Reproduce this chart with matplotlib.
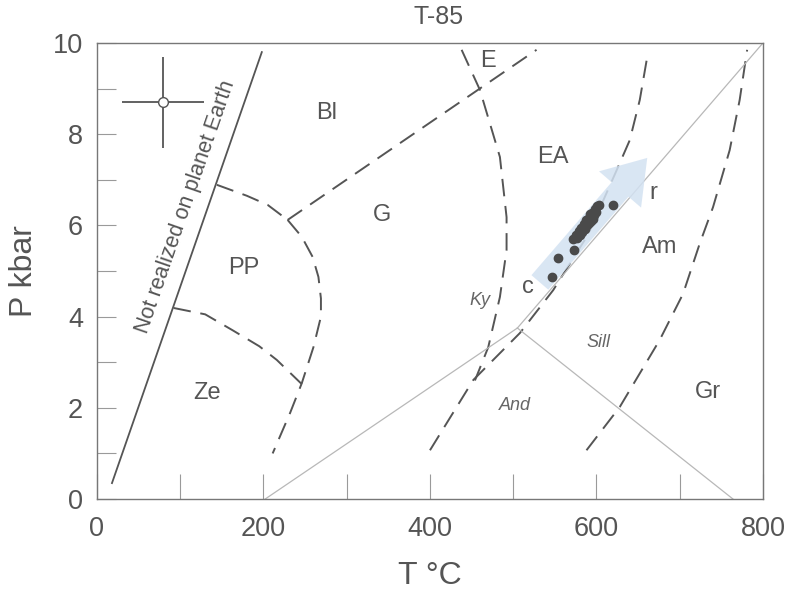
import matplotlib
matplotlib.use('Agg')
import matplotlib.pyplot as plt
from matplotlib.patches import FancyArrowPatch

plt.rcParams['font.family'] = ['Liberation Sans', 'DejaVu Sans']

INK = '#555555'
LIGHT = '#9a9a9a'

# metamorphic facies boundaries (T in °C, P in kbar)
earth_T = [18, 198]
earth_P = [0.35, 9.8]

pp_g_T = [229, 246, 259, 266, 269, 269, 260, 246, 232, 211]
pp_g_P = [6.12, 5.75, 5.31, 4.87, 4.4, 4.0, 3.33, 2.54, 1.89, 1.0]

pp_top_T = [144, 180, 205, 229]
pp_top_P = [6.89, 6.65, 6.45, 6.12]

pp_ze_T = [92, 130, 163, 195, 216, 246]
pp_ze_P = [4.19, 4.05, 3.70, 3.35, 3.05, 2.52]

bl_g_T = [229, 528]
bl_g_P = [6.12, 9.85]

e_T = [438, 460, 484, 492, 492, 484, 470, 454]
e_P = [9.85, 8.97, 7.5, 6.18, 5.46, 4.43, 3.33, 2.6]

ea_am_T = [400, 452, 508, 548, 590, 624, 640, 652, 661]
ea_am_P = [1.07, 2.61, 3.64, 4.58, 5.8, 7.2, 7.87, 8.75, 9.7]

am_gr_T = [588, 628, 676, 704, 724, 740, 760, 772, 781]
am_gr_P = [1.07, 2.02, 3.49, 4.5, 5.6, 6.4, 7.65, 8.75, 9.85]

# aluminosilicate triple point
and_ky_T = [202, 505]
and_ky_P = [0.0, 3.75]
ky_sill_T = [505, 800]
ky_sill_P = [3.75, 10.0]
and_sill_T = [505, 764]
and_sill_P = [3.75, 0.0]

# measured P-T estimates
pts_T = [546, 554, 573, 576, 620, 572, 575, 577, 579, 580, 582, 583, 585, 586,
         588, 589, 590, 591, 593, 594, 595, 597, 598, 600, 601, 603, 596, 592, 587]
pts_P = [4.87, 5.28, 5.46, 5.75, 6.45, 5.70, 5.78, 5.72, 5.88, 5.80, 5.95, 5.86,
         6.02, 5.92, 6.08, 6.00, 6.15, 6.05, 6.20, 6.10, 6.28, 6.22, 6.35, 6.30,
         6.42, 6.45, 6.15, 6.25, 6.12]

# core -> rim path
path_start = (532, 4.75)
path_end = (661, 7.48)

# typical uncertainty
err_T, err_P = 79, 8.70
err_dT, err_dP = 49, 1.0

facies = ['Bl', 'G', 'PP', 'Ze', 'E', 'EA', 'Am', 'Gr', 'r', 'c']
facies_T = [276, 342, 176, 132, 470, 548, 676, 734, 668, 518]
facies_P = [8.46, 6.23, 5.06, 2.32, 9.6, 7.5, 5.53, 2.35, 6.7, 4.65]

minerals = ['Ky', 'Sill', 'And']
minerals_T = [460, 602, 502]
minerals_P = [4.36, 3.44, 2.06]

fig = plt.figure(figsize=(7.86, 5.92), dpi=100)
ax = fig.add_axes([0.1234, 0.157, 0.8473, 0.7704])

dash = dict(color=INK, lw=1.4, dashes=(9, 5))
ax.plot(earth_T, earth_P, color=INK, lw=1.3)
for xs, ys in [(pp_g_T, pp_g_P), (pp_top_T, pp_top_P), (pp_ze_T, pp_ze_P),
               (bl_g_T, bl_g_P), (e_T, e_P), (ea_am_T, ea_am_P), (am_gr_T, am_gr_P)]:
    ax.plot(xs, ys, **dash)

for xs, ys in [(and_ky_T, and_ky_P), (ky_sill_T, ky_sill_P), (and_sill_T, and_sill_P)]:
    ax.plot(xs, ys, color='#b8b8b8', lw=0.9)

arrow = FancyArrowPatch(path_start, path_end,
                        arrowstyle='simple,head_length=30,head_width=40,tail_width=16',
                        mutation_scale=1, shrinkA=0, shrinkB=0,
                        facecolor='#d3e2f2', edgecolor='none', alpha=0.85, zorder=3)
ax.add_patch(arrow)

ax.plot(pts_T, pts_P, 'o', color='#4a4a4a', ms=6, mec='#4a4a4a', zorder=4)

ax.errorbar([err_T], [err_P], xerr=[err_dT], yerr=[err_dP], fmt='o', color=INK,
            mfc='white', mec=INK, ms=7, lw=1.3, capsize=0, zorder=4)

for s, x, y in zip(facies, facies_T, facies_P):
    ax.text(x, y, s, fontsize=17, color=INK, ha='center', va='center')
for s, x, y in zip(minerals, minerals_T, minerals_P):
    ax.text(x, y, s, fontsize=13, color='#666666', style='italic', ha='center', va='center')

ax.text(107, 6.4, 'Not realized on planet Earth', fontsize=15.5, color=INK,
        rotation=70.9, rotation_mode='anchor', ha='center', va='center')

ax.text(410, 10.3, 'T-85', fontsize=18, color=INK, ha='center', va='bottom')

ax.set_xlim(0, 800)
ax.set_ylim(0, 10)
ax.set_xticks([0, 200, 400, 600, 800])
ax.set_xticks(range(100, 800, 100), minor=True)
ax.set_yticks([0, 2, 4, 6, 8, 10])
ax.set_yticks(range(1, 10), minor=True)
ax.tick_params(axis='x', which='major', direction='in', length=18, width=0.8,
               color=LIGHT, labelsize=19.5, labelcolor=INK, pad=12)
ax.tick_params(axis='x', which='minor', direction='in', length=18, width=0.8, color=LIGHT)
ax.tick_params(axis='y', which='major', direction='in', length=14, width=0.8,
               color=LIGHT, labelsize=19.5, labelcolor=INK, pad=10)
ax.tick_params(axis='y', which='minor', direction='in', length=14, width=0.8, color=LIGHT)
for sp in ax.spines.values():
    sp.set_color('#777777')
    sp.set_linewidth(1.0)

ax.set_xlabel('T °C', fontsize=23, color=INK, labelpad=14)
ax.set_ylabel('P kbar', fontsize=23, color=INK, labelpad=10)

fig.savefig('out.png', dpi=100)
